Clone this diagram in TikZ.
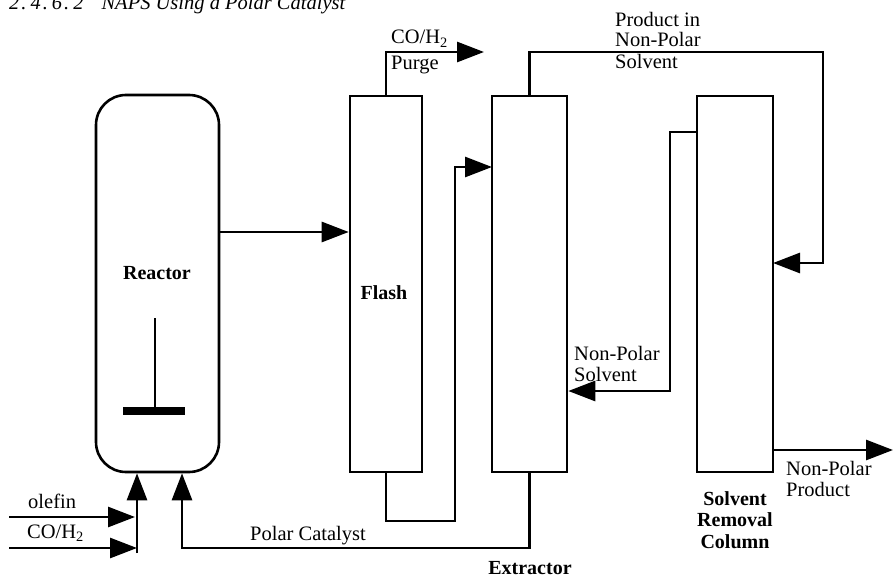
\documentclass[tikz,border=0pt]{standalone}
\usepackage{fontspec}
\setmainfont{Liberation Serif}
\usetikzlibrary{arrows.meta}
\begin{document}
\begin{tikzpicture}[x=1pt,y=-1pt,
  vessel/.style={draw, line width=2.6pt, inner sep=0pt},
  flow/.style={line width=2.8pt, -{Triangle[length=27pt,width=20pt]}},
  lbl/.style={font=\fontsize{20.5}{21}\selectfont, inner sep=0pt, align=left},
  blbl/.style={font=\fontsize{20}{21.5}\selectfont\bfseries, inner sep=0pt, align=center}]
\useasboundingbox (0,0) rectangle (893,578);
\begin{scope}
\clip (0,0) rectangle (893,578);
\node[anchor=base west, inner sep=0pt, font=\fontsize{20.5}{24}\selectfont\itshape] (title) at (9,10) {2\kern2pt.\kern4pt4\kern2pt.\kern4pt6\kern2pt.\kern4pt2\hspace{18pt}NAPS Using a Polar Catalyst};
\end{scope}

% vessels
\node[vessel, rounded corners=30pt, minimum width=123pt, minimum height=377pt] (reactor) at (157.5,283.5) {};
\node[vessel, minimum width=72pt, minimum height=376pt] (flash) at (386,284) {};
\node[vessel, minimum width=75pt, minimum height=376pt] (extractor) at (529.5,284) {};
\node[vessel, minimum width=76pt, minimum height=376pt] (src) at (735,284) {};

% vessel labels
\node[blbl] (reactorlbl) at (157,273) {Reactor};
\node[blbl] (flashlbl) at (384,293) {Flash};
\node[blbl, anchor=base] (extlbl) at (530,574) {Extractor};
\node[blbl, anchor=north] (srclbl) at (735,491) {Solvent\\Removal\\Column};

% stirrer
\coordinate (stirTop) at (155,318);
\coordinate (stirBot) at (155,409);
\draw[line width=2.2pt] (stirTop) -- (stirBot);
\fill (123,407) rectangle (185,415);

% coordinates
\coordinate (r1) at (219,232);
\coordinate (purgeEnd) at (484,52);
\coordinate (loopBR) at (455,521);
\coordinate (extIn) at (492,167);
\coordinate (topR) at (823,52);
\coordinate (srcIn) at (773,263);
\coordinate (srcOut) at (697,132);
\coordinate (nps) at (670,391);
\coordinate (prodOut) at (773,450);
\coordinate (prodEnd) at (893,450);
\coordinate (pcBL) at (182,548);
\coordinate (olefinStart) at (9,517);
\coordinate (olefinEnd) at (135,517);
\coordinate (coStart) at (9,548);
\coordinate (coEnd) at (137,548);
\coordinate (feedJ) at (137,553);

% flows
\draw[flow] (r1) -- (r1 -| flash.west);
\draw[flow] (flash.north) |- (purgeEnd);
\draw[flow] (flash.south) |- (loopBR) |- (extIn);
\draw[flow] (extractor.north) |- (topR) |- (srcIn);
\draw[flow] (srcOut) -| (nps) -- (nps -| extractor.east);
\draw[flow] (prodOut) -- (prodEnd);
\draw[flow] (extractor.south) |- (pcBL) -- (pcBL |- reactor.south);
\draw[flow] (olefinStart) -- (olefinEnd);
\draw[flow] (coStart) -- (coEnd);
\draw[flow] (feedJ) -- (feedJ |- reactor.south);

% stream labels (base anchor = baseline of last line)
\node[lbl, anchor=base west] (purgelbl) at (391,69) {CO/H\smash{\textsubscript{2}}\\[4pt]Purge};
\node[lbl, anchor=base west] (prodlbl) at (615,68) {Product in\\Non-Polar\\Solvent};
\node[lbl, anchor=base west] (npslbl) at (574,381) {Non-Polar\\Solvent};
\node[lbl, anchor=base west] (npplbl) at (786,496) {Non-Polar\\Product};
\node[lbl, anchor=base west] (pclbl) at (250,540) {Polar Catalyst};
\node[lbl, anchor=base west] (olefinlbl) at (28,508) {olefin};
\node[lbl, anchor=base west] (colbl) at (27,538) {CO/H\textsubscript{2}};
\end{tikzpicture}
\end{document}
